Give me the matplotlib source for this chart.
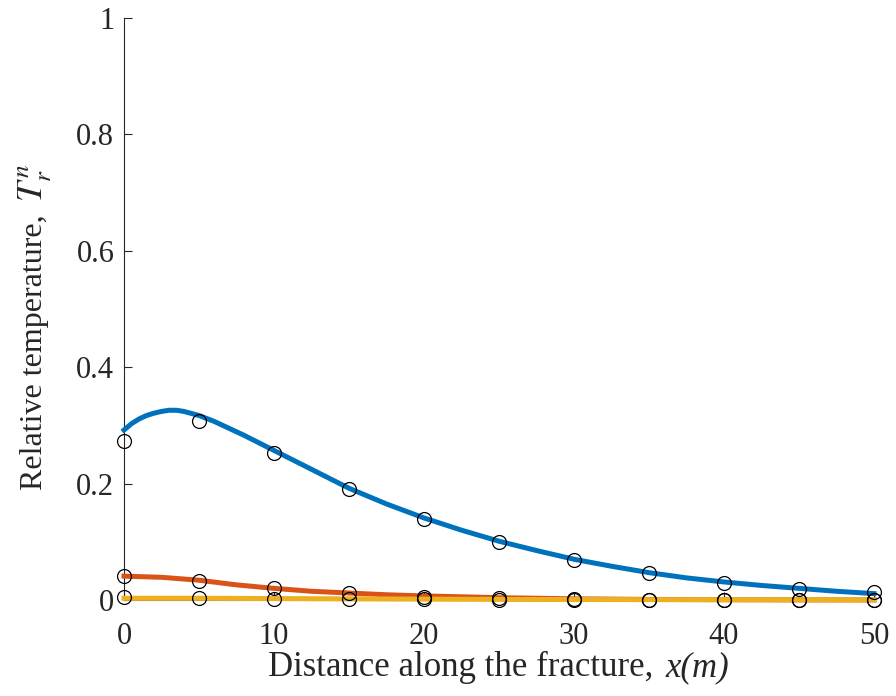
import matplotlib
matplotlib.use('Agg')
import matplotlib.pyplot as plt

plt.rcParams['font.family'] = ['Liberation Serif', 'DejaVu Serif']
plt.rcParams['mathtext.fontset'] = 'stix'

# model curves
x_blue = [0, 0.5, 1, 1.5, 2, 2.5, 3, 3.5, 4, 5, 6, 7, 8, 9, 10, 12, 15,
          17.5, 20, 22.5, 25, 27.5, 30, 32.5, 35, 37.5, 40, 42.5, 45,
          47.5, 50]
y_blue = [0.292, 0.303, 0.311, 0.317, 0.321, 0.324, 0.326, 0.326, 0.324,
          0.317, 0.307, 0.295, 0.283, 0.270, 0.257, 0.231, 0.192, 0.165,
          0.141, 0.120, 0.101, 0.085, 0.070, 0.058, 0.047, 0.038, 0.031,
          0.025, 0.020, 0.015, 0.011]

x_orange = [0, 2.5, 5, 7.5, 10, 12.5, 15, 17.5, 20, 25, 30, 35, 40, 45, 50]
y_orange = [0.041, 0.039, 0.034, 0.026, 0.020, 0.015, 0.012, 0.009, 0.007,
            0.004, 0.002, 0.001, 0.0005, 0.0002, 0.0001]

x_yellow = [0, 5, 10, 15, 20, 25, 30, 40, 50]
y_yellow = [0.003, 0.003, 0.0025, 0.002, 0.0015, 0.001, 0.0008, 0.0005, 0.0003]

# reference points (circles)
x_pts = [0, 5, 10, 15, 20, 25, 30, 35, 40, 45, 50]
pts_blue = [0.273, 0.307, 0.253, 0.191, 0.139, 0.100, 0.069, 0.047, 0.030,
            0.019, 0.014]
pts_orange = [0.041, 0.032, 0.020, 0.012, 0.006, 0.003, 0.001, 0.0005,
              0.0002, 0.0001, 0.0]
pts_yellow = [0.005, 0.004, 0.002, 0.0015, 0.001, 0.0005, 0.0, 0.0, 0.0,
              0.0, 0.0]

W, H = 896, 696
fig = plt.figure(figsize=(W / 100, H / 100), dpi=100)
ax = fig.add_axes([124 / W, 96 / H, 750 / W, 582 / H])

for xs, ys, c in ((x_blue, y_blue, '#0072BD'),
                  (x_orange, y_orange, '#D95319'),
                  (x_yellow, y_yellow, '#EDB120')):
    ax.plot(xs, ys, color=c, linewidth=3.6, zorder=3, clip_on=False)

for pts in (pts_blue, pts_orange, pts_yellow):
    ax.plot(x_pts, pts, linestyle='none', marker='o', markersize=10,
            markerfacecolor='none', markeredgecolor='black',
            markeredgewidth=0.9, zorder=4, clip_on=False)

ax.set_xlim(0, 50)
ax.set_ylim(0, 1)
ax.set_xticks([0, 10, 20, 30, 40, 50])
ax.set_yticks([0, 0.2, 0.4, 0.6, 0.8, 1])
ax.set_yticklabels(['0', '0.2', '0.4', '0.6', '0.8', '1'])

ax.spines['top'].set_visible(False)
ax.spines['right'].set_visible(False)
ax.spines['left'].set_linewidth(0.8)
ax.spines['left'].set_color('#262626')
ax.spines['bottom'].set_linewidth(0.8)
ax.spines['bottom'].set_color('#777777')
ax.tick_params(direction='in', length=5.5, width=0.8, labelsize=22,
               colors='#262626')
ax.tick_params(axis='x', pad=16)
ax.tick_params(axis='y', pad=7)

txt = dict(color='#262626')

# x label: upright text followed by italic x(m)
fig.canvas.draw()
r = fig.canvas.get_renderer()
xl1 = fig.text(0, 20 / H, 'Distance along the fracture,', fontsize=25,
               ha='left', va='baseline', **txt)
xl2 = fig.text(0, 20 / H, 'x(m)', fontsize=25, style='italic',
               ha='left', va='baseline', **txt)
w1 = xl1.get_window_extent(r).width
w2 = xl2.get_window_extent(r).width
gap = 12
x0 = 499 - (w1 + gap + w2) / 2
xl1.set_x(x0 / W)
xl2.set_x((x0 + w1 + gap) / W)

# y label: rotated text followed by T_r^n
yl1 = fig.text(42 / W, (H - 490) / H, 'Relative temperature,', fontsize=23,
               rotation=90, rotation_mode='anchor', ha='left',
               va='baseline', **txt)
top = yl1.get_window_extent(r).y1
fig.text(42 / W, (top + 12) / H, r'$T_r^n$', fontsize=26,
         rotation=90, rotation_mode='anchor', ha='left', va='baseline', **txt)

fig.savefig('out.png', dpi=100)
